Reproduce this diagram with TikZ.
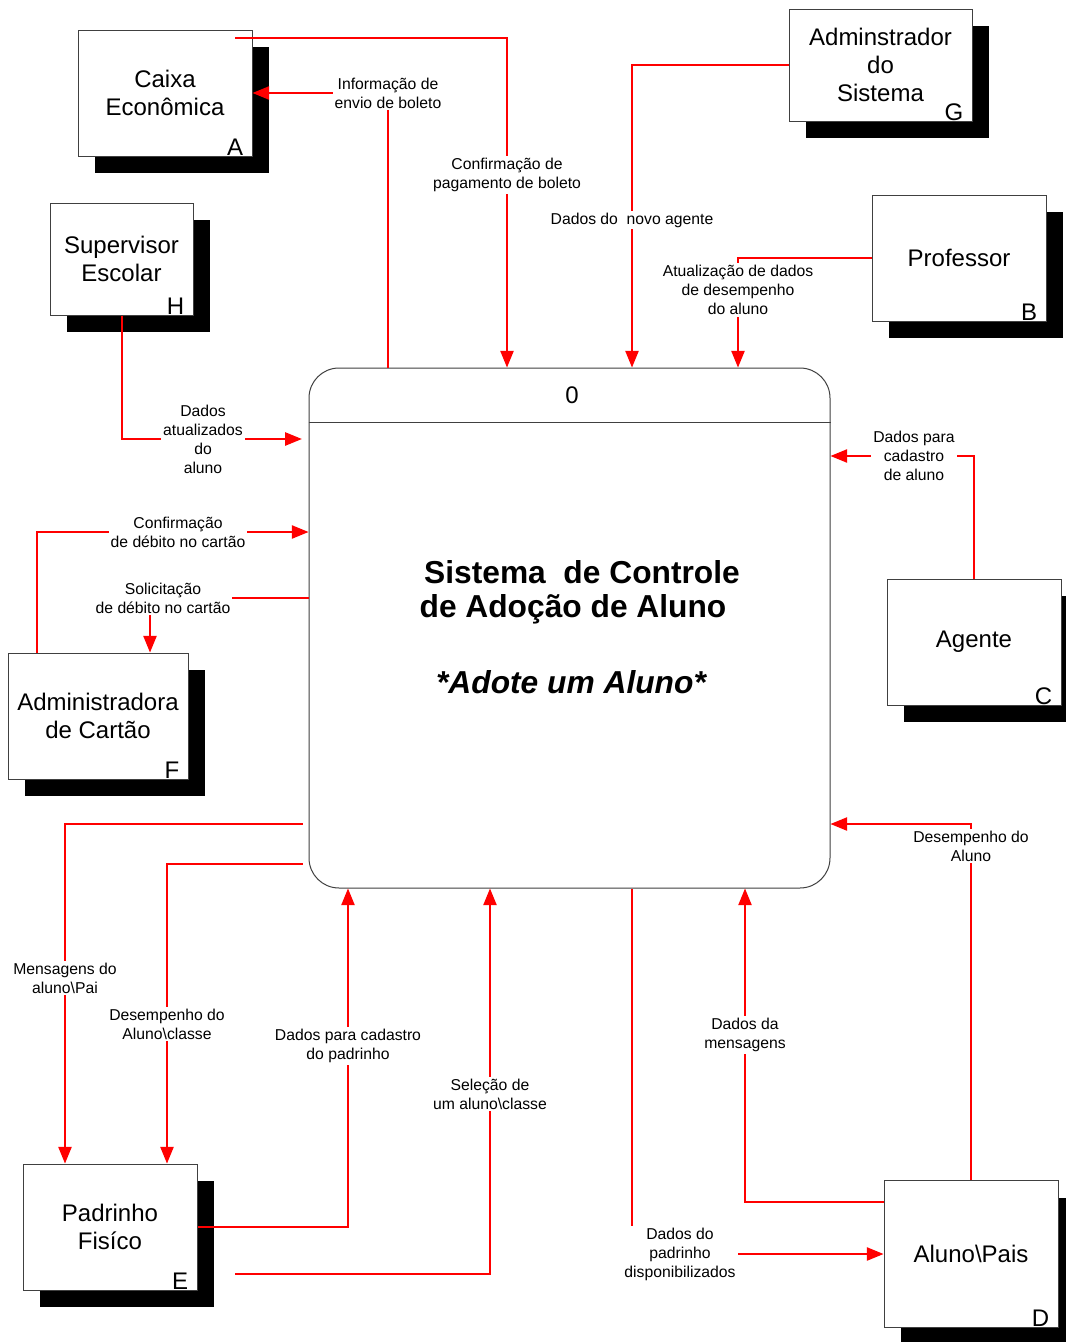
\documentclass[tikz,border=0pt]{standalone}
\usepackage{fontspec}
\setmainfont{Liberation Sans}
\usetikzlibrary{shadows,arrows.meta,calc}

\newcommand\lblsize{\fontsize{11.8pt}{14.25pt}\selectfont}
\newcommand\entsize{\fontsize{18pt}{20.8pt}\selectfont}
\newcommand\ttlsize{\fontsize{23.8pt}{27.75pt}\selectfont\bfseries}

\begin{document}
\begin{tikzpicture}[x=0.75pt,y=-0.75pt,
  ent/.style={draw=black!75, line width=0.75pt, fill=white, align=center,
    font=\entsize, inner sep=0pt,
    drop shadow={shadow xshift=12.75pt, shadow yshift=-12.75pt, fill=black, opacity=1}},
  tag/.style={anchor=base east, inner sep=0pt, font=\entsize},
  flow/.style={draw=red, line width=1pt, -{Triangle[length=12.5pt,width=10pt]}},
  lbl/.style={fill=white, align=center, font=\lblsize, inner sep=1.5pt},
]
\fill[white] (0,0) rectangle (1066,1342);
\useasboundingbox (0,0) rectangle (1066,1342);

% central process
\node[draw=black!75, line width=0.75pt, fill=white, rounded corners=22.5pt,
      minimum width=390.75pt, minimum height=390pt] (P) at (569.5,628) {};
\draw[black!75, line width=0.75pt] ($(P.north west)+(0,55)$) -- ($(P.north east)+(0,55)$);
\node[font=\entsize] (Pnum) at (572,395) {0};
\node[font=\ttlsize] (T1) at (582,572) {Sistema\ \ de Controle};
\node[font=\ttlsize] (T2) at (573,609) {de Adoção de Aluno};
\node[font=\ttlsize\itshape] (T3) at (571,682) {*Adote um Aluno*};

% external entities
\node[ent, minimum width=130.5pt, minimum height=94.5pt] (A) at (165,93) {Caixa\\Econômica};
\node[tag] (Atag) at ($(A.south east)+(-9,-1.5)$) {A};
\node[ent, minimum width=137.25pt, minimum height=84pt] (G) at (880.5,65) {Adminstrador\\do\\Sistema};
\node[tag] (Gtag) at ($(G.south east)+(-9,-1.5)$) {G};
\node[ent, minimum width=130.5pt, minimum height=94.5pt] (B) at (959,258) {Professor};
\node[tag] (Btag) at ($(B.south east)+(-9,-1.5)$) {B};
\node[ent, minimum width=107.25pt, minimum height=84pt] (H) at (121.5,259) {Supervisor\\Escolar};
\node[tag] (Htag) at ($(H.south east)+(-9,-1.5)$) {H};
\node[ent, minimum width=135pt, minimum height=94.5pt] (F) at (98,716) {Administradora\\de Cartão};
\node[tag] (Ftag) at ($(F.south east)+(-9,-1.5)$) {F};
\node[ent, minimum width=130.5pt, minimum height=94.5pt] (C) at (974,642) {Agente};
\node[tag] (Ctag) at ($(C.south east)+(-9,-1.5)$) {C};
\node[ent, minimum width=130.5pt, minimum height=94.5pt] (E) at (110,1227) {Padrinho\\Fisíco};
\node[tag] (Etag) at ($(E.south east)+(-9,-1.5)$) {E};
\node[ent, minimum width=130.5pt, minimum height=110.25pt] (D) at (971,1254) {Aluno\textbackslash Pais};
\node[tag] (Dtag) at ($(D.south east)+(-9,-1.5)$) {D};

% data flows
\coordinate (a1) at (235,38);
\coordinate (e2) at (235,1274);
\draw[flow] (a1) -| (P.north -| 507,0);
\draw[flow] (P.north -| 388,0) |- (A.east);
\draw[flow] (G.west) -| (P.north -| 632,0);
\draw[flow] (B.west) -| (P.north -| 738,0);
\draw[flow, shorten >=5pt] (H.south -| 122,0) |- (P.west |- 0,439);
\draw[flow] (F.north -| 37,0) |- (P.west |- 0,532);
\draw[flow] (P.west |- 0,598) -| (F.north -| 150,0);
\draw[flow] (C.north) |- (P.east |- 0,456);
\draw[flow] (D.north) |- (P.east |- 0,824);
\draw[flow, shorten <=4.5pt] (P.west |- 0,824) -| (E.north -| 65,0);
\draw[flow, shorten <=4.5pt] (P.west |- 0,864) -| (E.north -| 167,0);
\draw[flow] (E.east) -| (P.south -| 348,0);
\draw[flow] (e2) -| (P.south -| 490,0);
\draw[flow] (D.west |- 0,1202) -| (P.south -| 745,0);
\draw[flow] (P.south -| 632,0) |- (D.west);

% flow labels
\node[lbl] (l1) at (507,175) {Confirmação de\\pagamento de boleto};
\node[lbl] (l2) at (388,93) {Informação de\\envio de boleto};
\node[lbl] (l3) at (632,220) {Dados do\ \ novo agente};
\node[lbl] (l4) at (738,290) {Atualização de dados\\de desempenho\\do aluno};
\node[lbl] (l5) at (203,439) {Dados\\atualizados\\do\\aluno};
\node[lbl] (l6) at (178,532) {Confirmação\\de débito no cartão};
\node[lbl] (l7) at (163,598) {Solicitação\\de débito no cartão};
\node[lbl] (l8) at (914,456) {Dados para\\cadastro\\de aluno};
\node[lbl] (l9) at (971,846) {Desempenho do\\Aluno};
\node[lbl] (l10) at (65,978) {Mensagens do\\aluno\textbackslash Pai};
\node[lbl] (l11) at (167,1024) {Desempenho do\\Aluno\textbackslash classe};
\node[lbl] (l12) at (348,1046) {Dados para cadastro\\do padrinho};
\node[lbl] (l13) at (490,1094) {Seleção de\\um aluno\textbackslash classe};
\node[lbl] (l14) at (745,1035) {Dados da\\mensagens};
\node[lbl] (l15) at (680,1254) {Dados do\\padrinho\\disponibilizados};
\end{tikzpicture}
\end{document}
